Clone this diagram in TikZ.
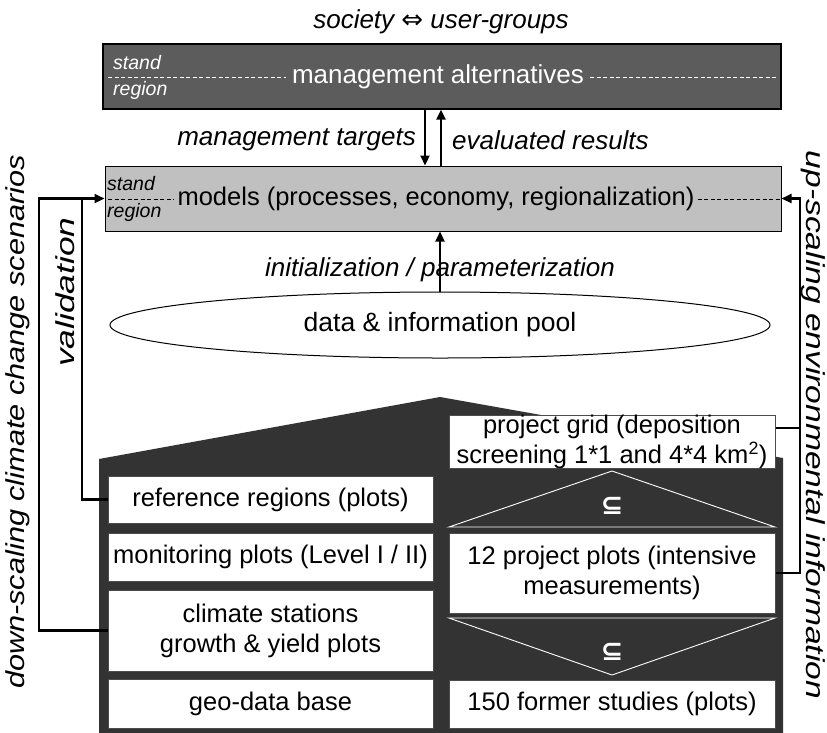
\documentclass[tikz,border=0pt]{standalone}
\usepackage{fontspec}
\setmainfont{Liberation Sans}
\newfontfamily\symfont{DejaVu Sans}
\usetikzlibrary{shapes.geometric,arrows.meta}
\definecolor{topgray}{HTML}{5C5C5C}
\definecolor{modgray}{HTML}{C0C0C0}
\definecolor{darkhouse}{HTML}{333333}
\begin{document}
\begin{tikzpicture}[x=1pt,y=-1pt,
  wbox/.style={draw=black!70, line width=1pt, fill=white, inner sep=0pt, align=center,
    font=\fontsize{25.5}{30}\selectfont},
  lab/.style={font=\fontsize{26}{30}\selectfont\itshape, inner sep=0pt},
  rlab/.style={font=\fontsize{26}{30}\selectfont\itshape, inner sep=0pt},
  small/.style={font=\fontsize{19.5}{20}\selectfont\itshape, inner sep=0pt, anchor=west},
  conn/.style={line width=2.2pt, -{Triangle[length=10pt,width=9pt]}},
  plain/.style={line width=2.2pt},
  tri/.style={draw=white, line width=0.9pt},
  subs/.style={text=white, font=\fontsize{27}{30}\symfont\bfseries, inner sep=0pt},
  dsh/.style={line width=1pt, dash pattern=on 4pt off 2.5pt},
]
\useasboundingbox (0,0) rectangle (827,732);

% title
\node[lab] (title) at (441,22) {society {\upshape\symfont ⇔} user-groups};

% top box
\node[draw=black, line width=1.2pt, fill=topgray, minimum width=678pt, minimum height=65pt,
      inner sep=0pt] (mgmt) at (442,76.5) {};
\node[text=white, font=\fontsize{26}{30}\selectfont, inner xsep=6pt, inner ysep=0pt] (mgmttxt) at (438,77) {management alternatives};
\node[small, text=white] (ts) at (113,63) {stand};
\node[small, text=white] (tr) at (113,90) {region};
\draw[white, dsh] (108,77) -- (mgmttxt.west);
\draw[white, dsh] (mgmttxt.east) -- (776,77);

% models box
\node[draw=black, line width=1pt, fill=modgray, minimum width=676pt, minimum height=65pt,
      inner sep=0pt] (models) at (443,198.5) {};
\node[font=\fontsize{25.5}{30}\selectfont, inner xsep=3pt, inner ysep=0pt] (modtxt) at (436,199) {models (processes, economy, regionalization)};
\node[small] (ms) at (107,184) {stand};
\node[small] (mr) at (107,212) {region};
\draw[black, dsh] (108,199) -- (modtxt.west);
\draw[black, dsh] (modtxt.east) -- (780,199);

% arrows between top and models
\draw[conn] ([xshift=-17pt]mgmt.south) -- ([xshift=-18pt]models.north);
\draw[conn] ([xshift=-2pt]models.north) -- ([xshift=-1pt]mgmt.south);
\node[lab, anchor=east] (mt) at (416,140) {management targets};
\node[lab, anchor=west] (er) at (452,140) {evaluated results};

% pool
\node[ellipse, draw=black, line width=1pt, fill=white, minimum width=660pt, minimum height=66pt,
      inner sep=0pt, font=\fontsize{26.5}{30}\selectfont] (pool) at (440,325) {data \& information pool};
\draw[conn] (pool.north) -- (pool.north |- models.south);
\node[lab] (init) at (440,270) {initialization / parameterization};

% dark house
\fill[darkhouse] (99,459) -- (440,397) -- (783,458) -- (783,740) -- (99,740) -- cycle;

% left column
\node[wbox, minimum width=325pt, minimum height=47pt] (ref) at (270.5,499.5) {reference regions (plots)};
\node[wbox, minimum width=325pt, minimum height=48pt] (mon) at (270.5,557) {monitoring plots (Level I / II)};
\node[wbox, minimum width=325pt, minimum height=81pt] (clim) at (270.5,630.5) {climate stations\\growth \& yield plots};
\node[wbox, minimum width=325pt, minimum height=49pt] (geo) at (270.5,703.5) {geo-data base};

% right column
\node[wbox, minimum width=326pt, minimum height=50pt] (grid) at (612,442)
  {project grid (deposition\\screening 1*1 and 4*4 km\textsuperscript{2})};
\node[wbox, minimum width=326pt, minimum height=80pt] (plots) at (612,573)
  {12 project plots (intensive\\measurements)};
\node[wbox, minimum width=326pt, minimum height=48pt] (former) at (612,704) {150 former studies (plots)};

% subset triangles
\draw[tri] (449,527) -- (612,471) -- (775,527) -- cycle;
\draw[tri] (449,618) -- (612,675) -- (775,618) -- cycle;
\node[subs] (s1) at (612,506) {⊆};
\node[subs] (s2) at (612,652) {⊆};

% left connectors
\coordinate (vj) at (82,198.5);
\coordinate (dj) at (39,198.5);
\draw[plain] (ref.west) -| (vj);
\draw[conn] (clim.west) -| (dj) -- (models.west);
\node[rlab, rotate=90] (down) at (18,422) {\scalebox{1.18}[1]{down-scaling climate change scenarios}};
\node[rlab, rotate=90] (val) at (65,292) {\scalebox{1.36}[1]{validation}};

% right connectors
\coordinate (uj) at (800,198.5);
\draw[conn] (plots.east) -| (uj) -- (models.east);
\draw[plain] ([yshift=14pt]grid.east) -- ([yshift=14pt]grid.east -| uj);
\node[rlab, rotate=-90] (up) at (813,425) {\scalebox{1.29}[1]{up-scaling environmental information}};
\end{tikzpicture}
\end{document}
